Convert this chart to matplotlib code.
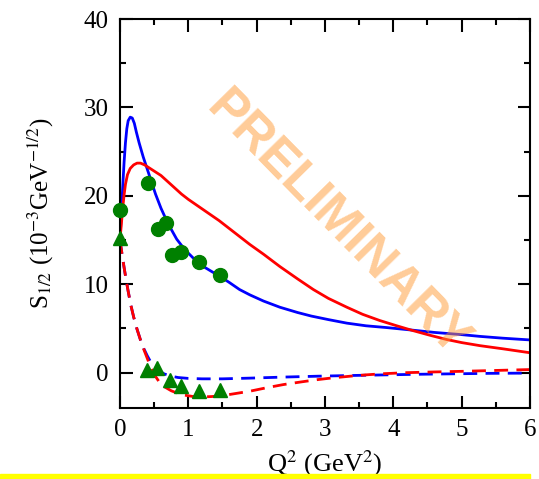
import numpy as np
import matplotlib
matplotlib.use('Agg')
import matplotlib.pyplot as plt
from matplotlib.patches import Rectangle
from matplotlib.ticker import MultipleLocator

plt.rcParams['font.family'] = 'Liberation Serif'
plt.rcParams['mathtext.fontset'] = 'stix'

# model curves
blue_x = [0, 0.02, 0.04, 0.06, 0.08, 0.10, 0.12, 0.15, 0.18, 0.21, 0.24, 0.28, 0.34, 0.40, 0.46, 0.52,
          0.60, 0.70, 0.83, 0.95, 1.08, 1.2, 1.35, 1.46, 1.6, 1.75, 1.9, 2.1, 2.34, 2.6, 2.8, 3.05,
          3.32, 3.6, 3.9, 4.29, 4.6, 5.0, 5.27, 5.6, 6.0]
blue_y = [15.0, 18.0, 21.0, 23.8, 26.0, 27.6, 28.5, 28.9, 28.8, 28.2, 27.2, 26.0, 24.4, 23.0, 21.6, 20.2,
          18.6, 16.9, 15.1, 13.9, 12.9, 12.1, 11.4, 10.9, 10.2, 9.4, 8.8, 8.1, 7.4, 6.8, 6.4, 6.0,
          5.6, 5.3, 5.1, 4.8, 4.55, 4.3, 4.1, 3.9, 3.7]

red_x = [0, 0.02, 0.04, 0.06, 0.08, 0.11, 0.15, 0.2, 0.25, 0.3, 0.36, 0.44, 0.52, 0.6, 0.7, 0.8, 0.9,
         1.0, 1.15, 1.3, 1.45, 1.6, 1.75, 1.9, 2.1, 2.34, 2.6, 2.83, 3.05, 3.32, 3.55, 3.8, 4.05,
         4.29, 4.55, 4.78, 5.0, 5.27, 5.6, 6.0]
red_y = [15.0, 16.8, 18.6, 20.1, 21.3, 22.4, 23.1, 23.5, 23.7, 23.7, 23.5, 23.1, 22.7, 22.3, 21.6, 20.9, 20.2,
         19.6, 18.8, 18.0, 17.2, 16.3, 15.4, 14.5, 13.4, 12.0, 10.6, 9.4, 8.4, 7.4, 6.6, 5.9, 5.3,
         4.75, 4.2, 3.75, 3.4, 3.05, 2.7, 2.25]

blue_d_x = [0, 0.03, 0.06, 0.09, 0.12, 0.16, 0.2, 0.25, 0.3, 0.35, 0.4, 0.45, 0.5, 0.57, 0.65, 0.75,
            0.85, 1.0, 1.2, 1.5, 1.9, 2.4, 2.9, 3.4, 3.9, 4.4, 4.9, 5.4, 6.0]
blue_d_y = [15.0, 13.4, 11.9, 10.5, 9.2, 7.6, 6.3, 4.9, 3.7, 2.7, 1.9, 1.2, 0.7, 0.2, -0.15, -0.4,
            -0.55, -0.65, -0.7, -0.7, -0.62, -0.5, -0.4, -0.32, -0.25, -0.18, -0.13, -0.08, -0.05]

red_d_x = [0, 0.03, 0.06, 0.09, 0.12, 0.16, 0.2, 0.25, 0.3, 0.35, 0.4, 0.45, 0.5, 0.57, 0.65, 0.75,
           0.85, 0.95, 1.07, 1.2, 1.35, 1.5, 1.7, 1.9, 2.15, 2.39, 2.65, 2.88, 3.1, 3.37, 3.6, 3.85,
           4.2, 4.6, 5.0, 5.5, 6.0]
red_d_y = [15.0, 13.4, 11.9, 10.5, 9.2, 7.6, 6.3, 4.9, 3.7, 2.6, 1.6, 0.6, -0.2, -1.0, -1.6, -2.05,
           -2.35, -2.55, -2.7, -2.75, -2.7, -2.6, -2.35, -2.1, -1.7, -1.35, -1.05, -0.8, -0.6, -0.4, -0.25, -0.12,
           0.0, 0.08, 0.15, 0.25, 0.35]

# data points
circ_x = [0.0, 0.41, 0.56, 0.68, 0.76, 0.9, 1.16, 1.46]
circ_y = [18.4, 21.4, 16.3, 16.9, 13.3, 13.7, 12.5, 11.0]
tri_x = [0.0, 0.39, 0.54, 0.73, 0.9, 1.15, 1.46]
tri_y = [15.2, 0.3, 0.5, -0.8, -1.5, -2.1, -2.0]

fig = plt.figure(figsize=(5.39, 4.79), dpi=100)
ax = fig.add_axes([0.2226, 0.1482, 0.7607, 0.8121])

ax.plot(blue_x, blue_y, color='blue', lw=2)
ax.plot(red_x, red_y, color='red', lw=2)
ax.plot(blue_d_x, blue_d_y, color='blue', lw=2, dashes=(5, 3))
ax.plot(red_d_x, red_d_y, color='red', lw=2, dashes=(5, 3))
ax.plot(circ_x, circ_y, 'o', color='green', ms=10, clip_on=False, zorder=5)
ax.plot(tri_x, tri_y, '^', color='green', ms=10, clip_on=False, zorder=5)

ax.set_xlim(0, 6)
ax.set_ylim(-4, 40)
ax.xaxis.set_major_locator(MultipleLocator(1))
ax.xaxis.set_minor_locator(MultipleLocator(0.5))
ax.yaxis.set_major_locator(MultipleLocator(10))
ax.yaxis.set_minor_locator(MultipleLocator(5))
ax.tick_params(which='both', direction='in', top=True, right=True, width=1.5, labelsize=18)
ax.tick_params(which='major', length=9)
ax.tick_params(which='minor', length=4.5)
ax.tick_params(axis='x', pad=8)
ax.tick_params(axis='y', pad=8)
for s in ax.spines.values():
    s.set_linewidth(1.5)

ax.set_ylabel('S$_{1/2}$ (10$^{-3}$GeV$^{-1/2}$)', fontsize=18)
ax.yaxis.set_label_coords(-0.155, 0.5)
ax.set_xlabel('Q$^2$ (GeV$^2$)', fontsize=19)
ax.xaxis.set_label_coords(0.5, -0.105)

ax.text(0.53, 0.47, 'PRELIMINARY', transform=ax.transAxes, rotation=-45.5,
        ha='center', va='center', fontsize=37, fontweight='bold',
        family='Liberation Sans', color='#FF9933', alpha=0.5, zorder=10)

fig.patches.append(Rectangle((0, 0), 530 / 539, 5 / 479, transform=fig.transFigure,
                             color='#FFFF00', zorder=20))

fig.savefig('out.png', dpi=100)
